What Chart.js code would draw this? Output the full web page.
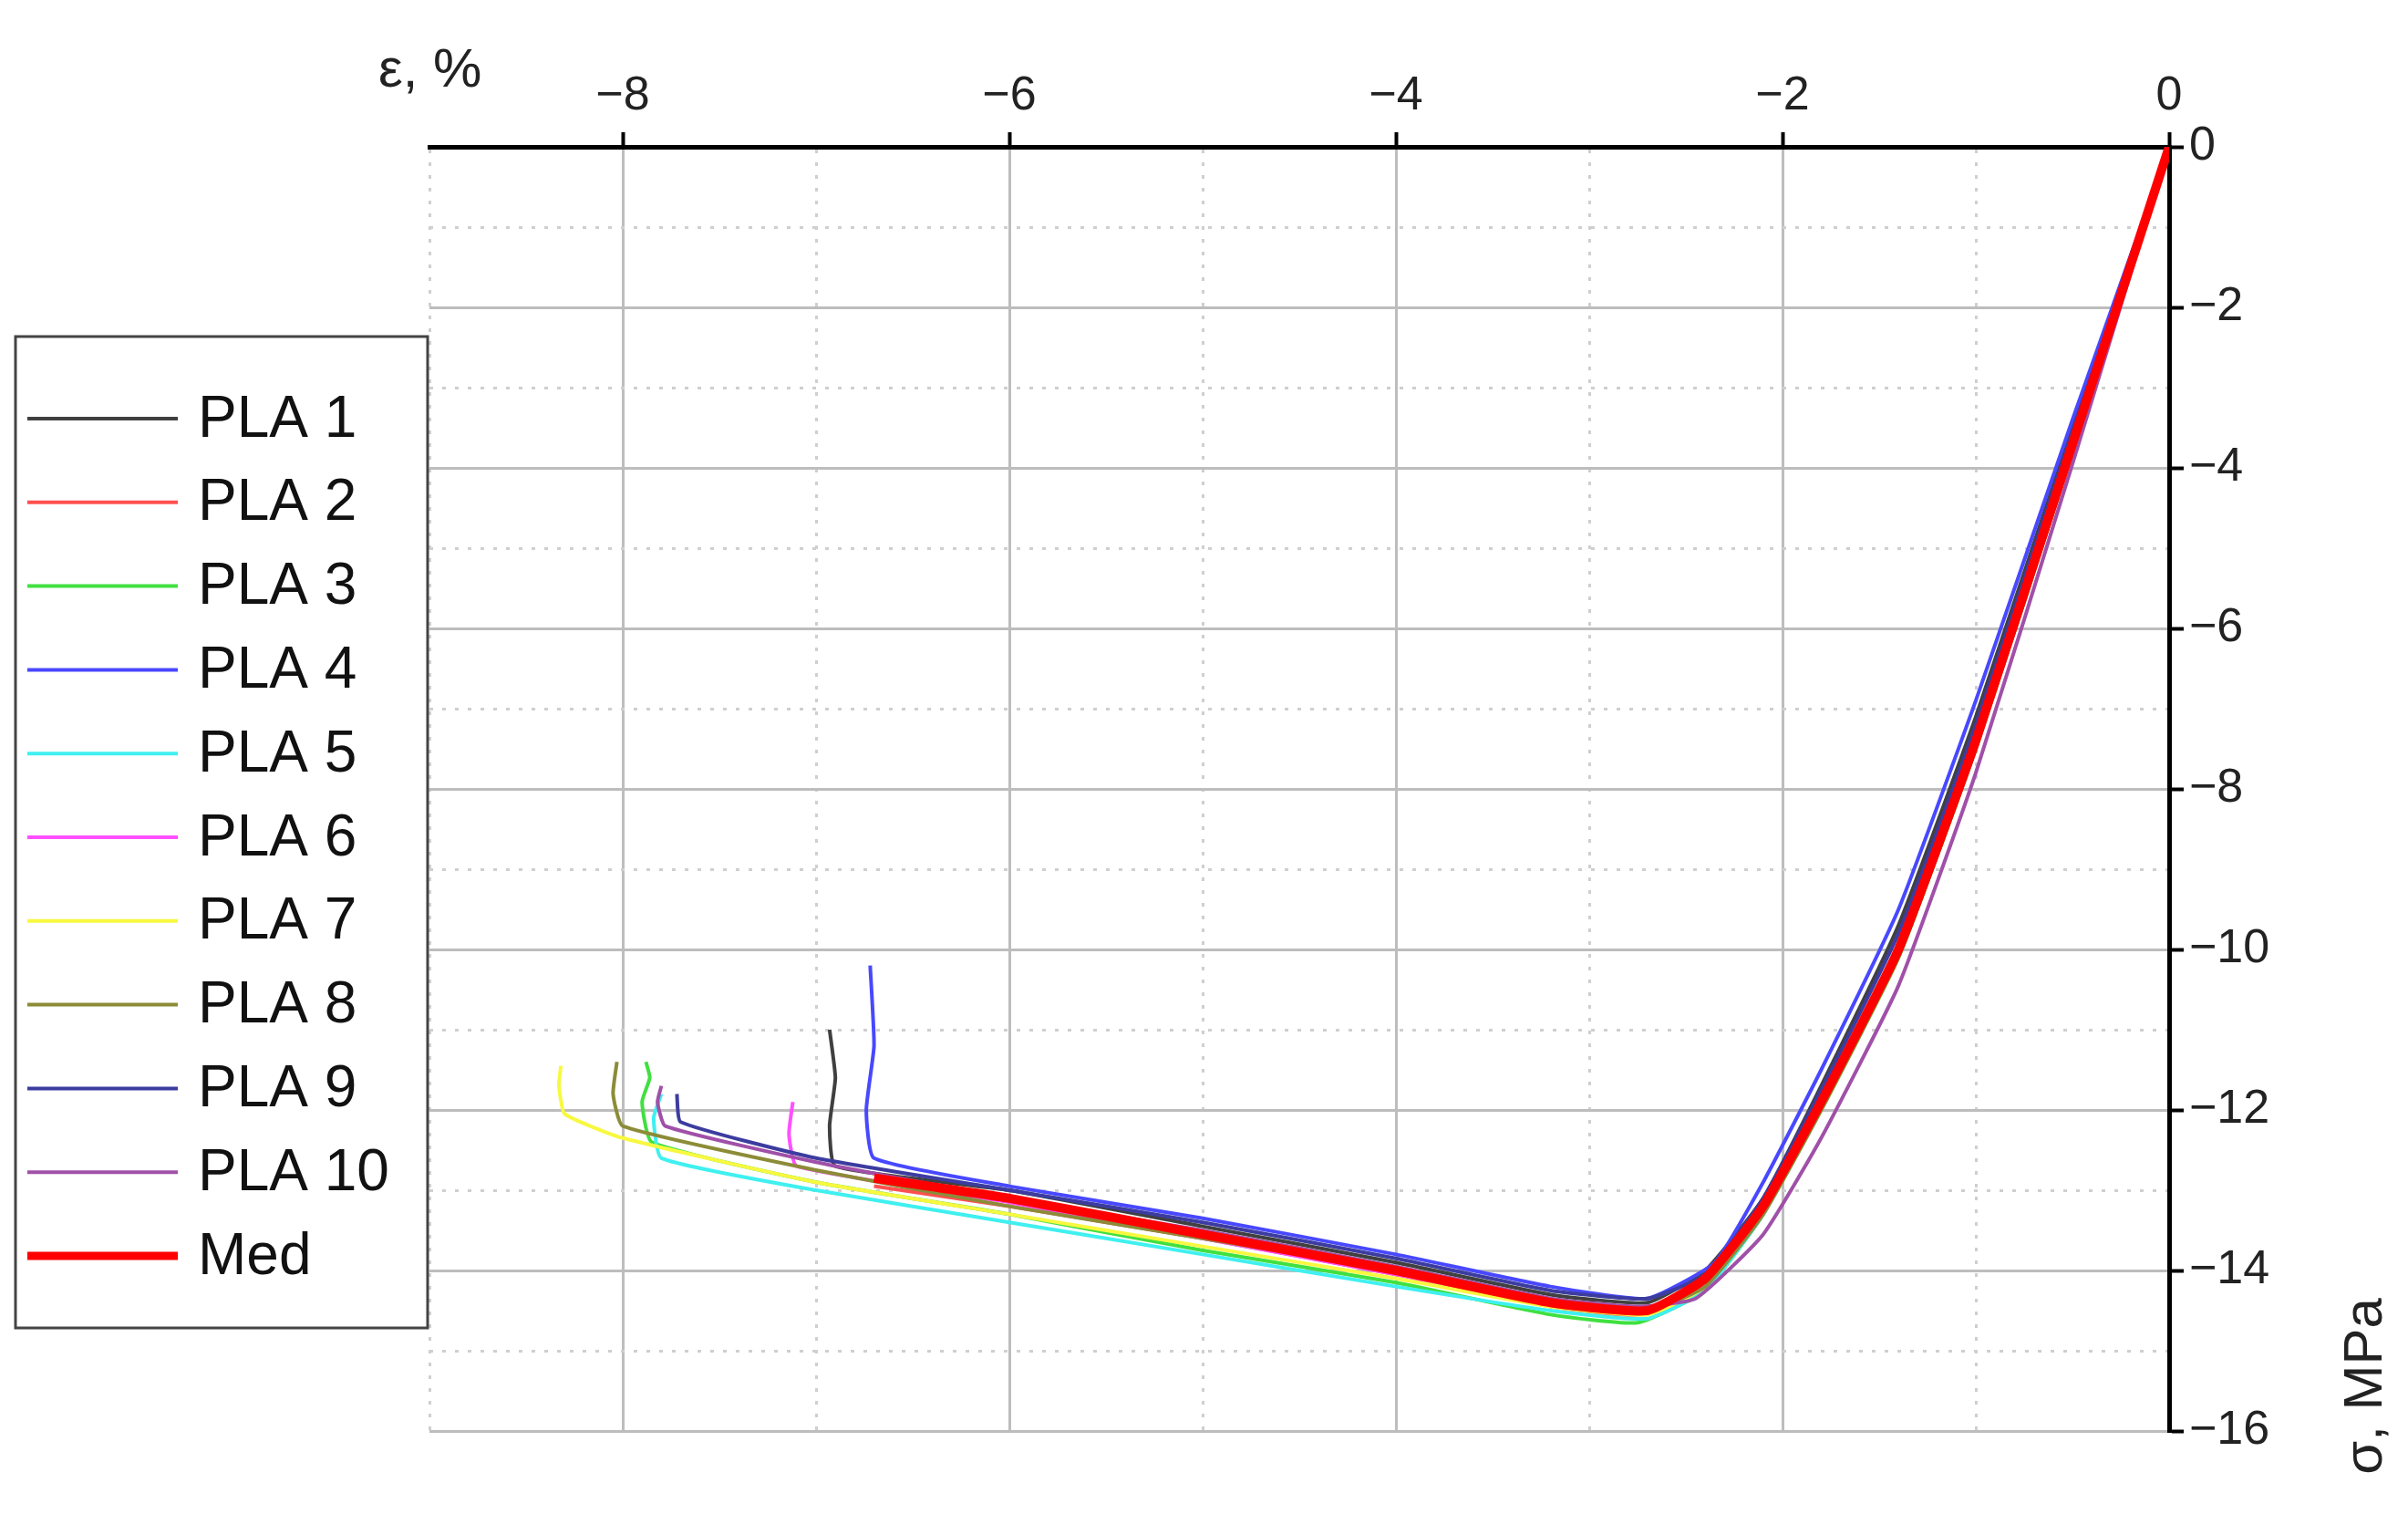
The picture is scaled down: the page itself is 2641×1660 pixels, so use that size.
<!DOCTYPE html>
<html lang="en">
<head>
<meta charset="UTF-8">
<title>PLA compression</title>
<script src="https://cdn.jsdelivr.net/npm/chart.js@4"></script>
<style>
  html, body { margin: 0; padding: 0; background: #fff; }
  #wrap { width: 2641px; height: 1660px; }
</style>
</head>
<body>
<div id="wrap"><canvas id="c"></canvas></div>
<script>
// strain (%) / stress (MPa) points
const pla1 = [[0,0],[-0.5,-3.5],[-1.0,-7.1],[-1.4,-9.7],[-1.8,-11.7],[-2.1,-13.1],[-2.4,-14.0],[-2.7,-14.4],[-3.2,-14.3],[-4,-13.9],[-5,-13.45],[-6,-13.0],[-6.9,-12.7],[-6.93,-12.2],[-6.9,-11.6],[-6.93,-11.0]];
const pla2 = [[0,0],[-0.5,-3.7],[-1.0,-7.4],[-1.4,-10.0],[-1.8,-11.9],[-2.1,-13.2],[-2.4,-14.1],[-2.75,-14.55],[-3.2,-14.45],[-4,-14.05],[-5,-13.6],[-6,-13.2],[-6.7,-12.95]];
const pla3 = [[0,0],[-0.5,-3.8],[-1.0,-7.5],[-1.4,-10.1],[-1.8,-12.0],[-2.1,-13.3],[-2.4,-14.25],[-2.75,-14.65],[-3.2,-14.55],[-4,-14.15],[-5,-13.75],[-6,-13.3],[-7,-12.9],[-7.85,-12.4],[-7.9,-11.9],[-7.86,-11.6],[-7.88,-11.4]];
const pla4 = [[0,0],[-0.5,-3.4],[-1.0,-6.9],[-1.4,-9.5],[-1.8,-11.5],[-2.1,-12.9],[-2.35,-13.9],[-2.7,-14.35],[-3.2,-14.2],[-4,-13.8],[-5,-13.35],[-6,-12.95],[-6.7,-12.6],[-6.74,-12.0],[-6.7,-11.2],[-6.72,-10.2]];
const pla5 = [[0,0],[-0.5,-3.75],[-1.0,-7.45],[-1.4,-10.05],[-1.8,-11.95],[-2.1,-13.3],[-2.4,-14.25],[-2.7,-14.6],[-3.2,-14.5],[-4,-14.2],[-5,-13.8],[-6,-13.4],[-7,-13.0],[-7.8,-12.6],[-7.84,-12.1],[-7.8,-11.8]];
const pla6 = [[0,0],[-0.5,-3.7],[-1.0,-7.4],[-1.4,-10.0],[-1.8,-11.9],[-2.1,-13.2],[-2.4,-14.15],[-2.7,-14.5],[-3.2,-14.4],[-4,-14.05],[-5,-13.6],[-6,-13.15],[-7.1,-12.7],[-7.14,-12.3],[-7.12,-11.9]];
const pla7 = [[0,0],[-0.5,-3.7],[-1.0,-7.4],[-1.4,-10.0],[-1.8,-11.9],[-2.1,-13.2],[-2.4,-14.2],[-2.7,-14.55],[-3.2,-14.45],[-4,-14.1],[-5,-13.7],[-6,-13.3],[-7,-12.9],[-8,-12.35],[-8.3,-12.05],[-8.33,-11.7],[-8.32,-11.45]];
const pla8 = [[0,0],[-0.5,-3.8],[-1.0,-7.5],[-1.4,-10.1],[-1.8,-12.0],[-2.1,-13.3],[-2.4,-14.2],[-2.7,-14.5],[-3.2,-14.4],[-4,-14.0],[-5,-13.6],[-6,-13.2],[-7,-12.75],[-8.0,-12.2],[-8.05,-11.8],[-8.03,-11.4]];
const pla9 = [[0,0],[-0.5,-3.55],[-1.0,-7.2],[-1.4,-9.8],[-1.8,-11.75],[-2.1,-13.1],[-2.4,-14.05],[-2.7,-14.35],[-3.2,-14.25],[-4,-13.85],[-5,-13.4],[-6,-13.0],[-7,-12.6],[-7.7,-12.15],[-7.72,-11.8]];
const pla10 = [[0,0],[-0.5,-3.95],[-1.0,-7.8],[-1.4,-10.45],[-1.8,-12.35],[-2.1,-13.55],[-2.45,-14.35],[-2.75,-14.45],[-3.2,-14.35],[-4,-13.95],[-5,-13.5],[-6,-13.1],[-7,-12.65],[-7.78,-12.2],[-7.82,-11.9],[-7.8,-11.7]];
const med = [[0,0],[-0.5,-3.7],[-1.0,-7.4],[-1.4,-10.0],[-1.8,-11.9],[-2.1,-13.2],[-2.4,-14.1],[-2.7,-14.5],[-3.2,-14.4],[-4,-14.0],[-5,-13.55],[-6,-13.1],[-6.7,-12.85]];

const names = ['PLA 1','PLA 2','PLA 3','PLA 4','PLA 5','PLA 6','PLA 7','PLA 8','PLA 9','PLA 10','Med'];
const series = [pla1, pla2, pla3, pla4, pla5, pla6, pla7, pla8, pla9, pla10, med];
const colors = ['#404040','#ff5050','#40e040','#4848ff','#40f0f0','#ff50ff','#f8f840','#8c8c38','#3c3ca0','#a050a8','#ff0000'];

const font = 'Liberation Sans, Arial, sans-serif';

const datasets = series.map((s, i) => ({
  label: names[i],
  data: s.map(p => ({ x: p[0], y: p[1] })),
  borderColor: colors[i],
  borderWidth: i === 10 ? 10 : 4,
  showLine: true,
  pointRadius: 0,
  tension: 0.15,
  order: 10 - i
}));

const gridColor = ctx => (ctx.tick && ctx.tick.value % 2 !== 0) ? '#cfcfcf' : '#bdbdbd';
const gridDash = ctx => (ctx.tick && ctx.tick.value % 2 !== 0) ? [4, 10] : [];
const tickColor = ctx => (ctx.tick && ctx.tick.value % 2 !== 0) ? 'rgba(0,0,0,0)' : '#000';
const label = v => v % 2 === 0 ? (v < 0 ? '\u2212' + Math.abs(v) : String(v)) : '';

const extras = {
  id: 'extras',
  afterDraw(chart) {
    const c = chart.ctx;
    c.save();
    c.fillStyle = '#222';
    c.font = '60px ' + font;
    c.textBaseline = 'alphabetic';
    c.fillText('\u03b5, %', 415, 95);
    c.save();
    c.translate(2612, 1520);
    c.rotate(-Math.PI / 2);
    c.textAlign = 'center';
    c.fillText('\u03c3, MPa', 0, 0);
    c.restore();
    // legend box
    c.fillStyle = '#fff';
    c.fillRect(17, 369, 452, 1087);
    c.strokeStyle = '#444';
    c.lineWidth = 3;
    c.strokeRect(17, 369, 452, 1087);
    c.font = '64px ' + font;
    c.textBaseline = 'middle';
    names.forEach((n, i) => {
      const y = 459 + 91.8 * i;
      c.strokeStyle = colors[i];
      c.lineWidth = i === 10 ? 9 : 4;
      c.beginPath();
      c.moveTo(30, y);
      c.lineTo(195, y);
      c.stroke();
      c.fillStyle = '#111';
      c.fillText(n, 217, y + 2);
    });
    c.restore();
  }
};

new Chart(document.getElementById('c'), {
  type: 'scatter',
  data: { datasets },
  plugins: [extras],
  options: {
    responsive: true,
    maintainAspectRatio: false,
    animation: false,
    layout: { padding: { left: 471, bottom: 91, top: 0, right: 0 } },
    plugins: { legend: { display: false }, tooltip: { enabled: false } },
    scales: {
      x: {
        type: 'linear',
        position: 'top',
        min: -9, max: 0,
        afterFit: s => { s.height = 161; },
        ticks: { stepSize: 1, callback: label, color: '#222', font: { size: 52, family: font }, padding: 8, maxRotation: 0, autoSkip: false },
        grid: { color: gridColor, lineWidth: 3, tickLength: 16, tickColor: tickColor, tickWidth: 4 },
        border: { color: '#000', width: 5, dash: gridDash }
      },
      y: {
        type: 'linear',
        position: 'right',
        min: -16, max: 0,
        afterFit: s => { s.width = 262; },
        ticks: { stepSize: 1, callback: label, color: '#222', font: { size: 52, family: font }, padding: 6, autoSkip: false },
        grid: { color: gridColor, lineWidth: 3, tickLength: 16, tickColor: tickColor, tickWidth: 4 },
        border: { color: '#000', width: 5, dash: gridDash }
      }
    }
  }
});
</script>
</body>
</html>
